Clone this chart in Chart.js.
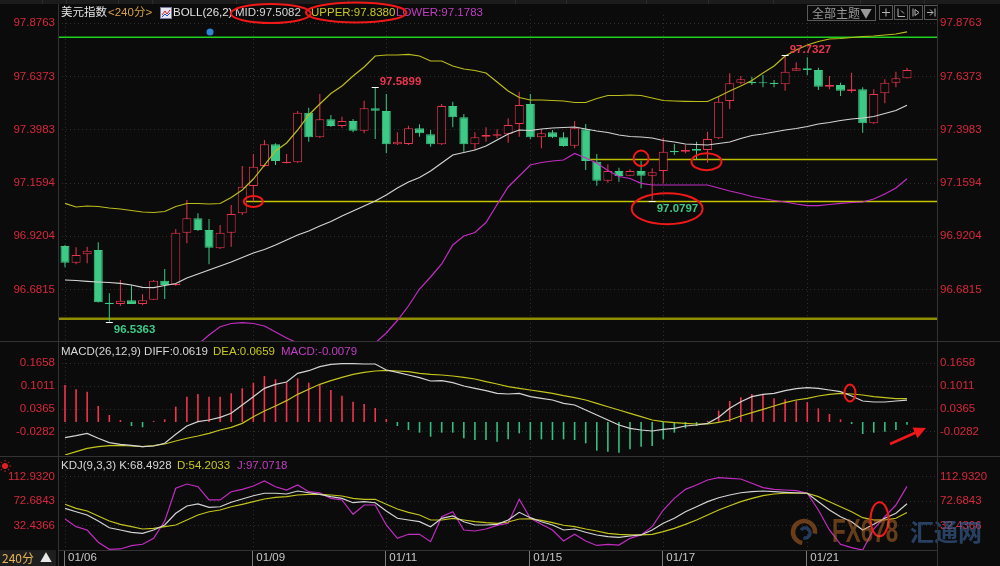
<!DOCTYPE html>
<html>
<head>
<meta charset="utf-8">
<title>美元指数 240分</title>
<script src="https://cdn.jsdelivr.net/npm/chart.js@4.4.1/dist/chart.umd.min.js"></script>
<style>
  html, body { margin: 0; padding: 0; background: #0b0b0b; }
  #wrap { position: relative; width: 1000px; height: 566px; overflow: hidden; background: #0b0b0b; }
  #wrap canvas { position: absolute; left: 0; top: 0; }
</style>
</head>
<body>
<div id="wrap">
  <canvas id="cMain" width="1000" height="566"></canvas>
  <canvas id="cMacd" width="1000" height="566"></canvas>
  <canvas id="cKdj" width="1000" height="566"></canvas>
</div>
<script>
// ---------- data ----------
const dateLabels = ['01/06', '01/09', '01/11', '01/15', '01/17', '01/21'];
const dateBars   = [0, 17, 29, 42, 54, 67];

const priceTicks = [96.6815, 96.9204, 97.1594, 97.3983, 97.6373, 97.8763];
const macdTicks  = [-0.0282, 0.0365, 0.1011, 0.1658];
const kdjTicks   = [32.4366, 72.6843, 112.9320];

const open = [
  96.8767, 96.8017, 96.8394, 96.8587, 96.6222, 96.6164, 96.6330, 96.6164, 96.6357, 96.7209,
  96.7016, 96.9364, 97.0010, 96.9485, 96.8664, 96.9364, 97.0235, 97.1460, 97.2357, 97.3331,
  97.2492, 97.2523, 97.4750, 97.3646, 97.4453, 97.4153, 97.4377, 97.3942, 97.4947, 97.4826,
  97.3331, 97.3345, 97.4050, 97.3780, 97.3331, 97.5050, 97.4543, 97.3331, 97.3673, 97.3717,
  97.3780, 97.4243, 97.5140, 97.3646, 97.3870, 97.3646, 97.3269, 97.4005, 97.2550, 97.1698,
  97.2133, 97.1922, 97.2133, 97.1922, 97.2133, 97.3031, 97.2999, 97.3120, 97.3076, 97.3601,
  97.5275, 97.6096, 97.6141, 97.6114, 97.6096, 97.6024, 97.6635, 97.6743, 97.6666, 97.5917,
  97.5993, 97.5724, 97.5800, 97.4274, 97.5620, 97.6096, 97.6294
];
const high = [
  96.8812, 96.8708, 96.8735, 96.8933, 96.6644, 96.7241, 96.7016, 96.6599, 96.7241, 96.7735,
  96.9530, 97.0831, 97.0235, 96.9979, 96.9709, 97.0607, 97.2357, 97.2896, 97.3524, 97.3376,
  97.2896, 97.4826, 97.4974, 97.5589, 97.4646, 97.4570, 97.4467, 97.5288, 97.5899, 97.5589,
  97.3870, 97.4166, 97.4229, 97.3973, 97.5140, 97.5243, 97.4691, 97.3870, 97.4094, 97.4005,
  97.4498, 97.5692, 97.5589, 97.4005, 97.3973, 97.3870, 97.4377, 97.4243, 97.2896, 97.2434,
  97.2281, 97.2209, 97.2595, 97.2254, 97.3628, 97.3345, 97.3300, 97.3448, 97.3897, 97.5468,
  97.6518, 97.6397, 97.6365, 97.6442, 97.6217, 97.7327, 97.7012, 97.7236, 97.6769, 97.6397,
  97.6096, 97.6545, 97.5890, 97.5800, 97.6249, 97.6590, 97.6769
];
const low = [
  96.7811, 96.7945, 96.7990, 96.6230, 96.5363, 96.6074, 96.6160, 96.6105, 96.6350, 96.6388,
  96.6972, 96.8888, 96.9440, 96.7945, 96.8632, 96.8735, 97.0158, 97.0760, 97.2312, 97.2402,
  97.2470, 97.2492, 97.3448, 97.3614, 97.4108, 97.4076, 97.3870, 97.3825, 97.3569, 97.2927,
  97.3300, 97.3300, 97.3673, 97.3224, 97.3300, 97.4094, 97.2999, 97.3075, 97.3448, 97.3601,
  97.3403, 97.3673, 97.3569, 97.3152, 97.3614, 97.3224, 97.3152, 97.2178, 97.1473, 97.1608,
  97.1653, 97.1909, 97.1357, 97.0797, 97.1581, 97.2851, 97.2927, 97.2658, 97.2506, 97.3569,
  97.4916, 97.6024, 97.5993, 97.5890, 97.5890, 97.5737, 97.6635, 97.6442, 97.5769, 97.5800,
  97.5499, 97.5647, 97.3852, 97.4243, 97.5172, 97.5890, 97.6290
];
const close = [
  96.8017, 96.8363, 96.8556, 96.6240, 96.6164, 96.6312, 96.6164, 96.6330, 96.7209, 96.7016,
  96.9364, 97.0010, 96.9485, 96.8691, 96.9364, 97.0203, 97.1428, 97.2326, 97.3331, 97.2582,
  97.2550, 97.4750, 97.3646, 97.4453, 97.4153, 97.4377, 97.3942, 97.4947, 97.4840, 97.3331,
  97.3448, 97.4050, 97.3825, 97.3331, 97.5050, 97.4543, 97.3331, 97.3646, 97.3749, 97.3780,
  97.4198, 97.5095, 97.3646, 97.3825, 97.3646, 97.3255, 97.4050, 97.2582, 97.1698, 97.2133,
  97.1909, 97.2133, 97.1922, 97.2075, 97.2999, 97.2972, 97.3076, 97.3044, 97.3569, 97.5243,
  97.6069, 97.6249, 97.6069, 97.6069, 97.6038, 97.6590, 97.6743, 97.6666, 97.5917, 97.5993,
  97.5737, 97.5800, 97.4274, 97.5589, 97.6096, 97.6294, 97.6666
];

const bollUpper = [
  97.0683, 97.0517, 97.0562, 97.0540, 97.0472, 97.0428, 97.0360, 97.0293, 97.0270, 97.0315,
  97.0540, 97.0674, 97.0674, 97.0652, 97.0674, 97.0944, 97.1280, 97.1774, 97.2402, 97.3031,
  97.3390, 97.3973, 97.4646, 97.5140, 97.5611, 97.5948, 97.6397, 97.6801, 97.7295, 97.7339,
  97.7339, 97.7371, 97.7295, 97.7070, 97.7070, 97.6846, 97.6711, 97.6644, 97.6532, 97.6128,
  97.5724, 97.5432, 97.5320, 97.5320, 97.5297, 97.5275, 97.5208, 97.5208, 97.5387, 97.5522,
  97.5522, 97.5544, 97.5522, 97.5410, 97.5297, 97.5275, 97.5261, 97.5252, 97.5252, 97.5477,
  97.5724, 97.5948, 97.6195, 97.6532, 97.6846, 97.7295, 97.7564, 97.7788, 97.7945, 97.8058,
  97.8080, 97.8125, 97.8170, 97.8192, 97.8237, 97.8282, 97.8380
];
const bollMid = [
  96.7241, 96.7218, 96.7182, 96.7151, 96.7129, 96.7093, 96.7016, 96.6913, 96.6895, 96.6994,
  96.7084, 96.7331, 96.7510, 96.7690, 96.7869, 96.8049, 96.8251, 96.8453, 96.8610, 96.8812,
  96.9036, 96.9261, 96.9440, 96.9664, 96.9866, 97.0113, 97.0338, 97.0562, 97.0787, 97.1056,
  97.1370, 97.1639, 97.1841, 97.2133, 97.2492, 97.2851, 97.2963, 97.3076, 97.3255, 97.3524,
  97.3794, 97.3973, 97.3951, 97.4018, 97.4063, 97.4085, 97.4108, 97.4018, 97.3928, 97.3861,
  97.3749, 97.3681, 97.3659, 97.3614, 97.3502, 97.3435, 97.3345, 97.3322, 97.3300, 97.3367,
  97.3435, 97.3592, 97.3726, 97.3794, 97.3883, 97.3973, 97.4041, 97.4130, 97.4243, 97.4310,
  97.4400, 97.4467, 97.4512, 97.4579, 97.4714, 97.4848, 97.5082
];
const bollLower = [
  96.3798, 96.3919, 96.3803, 96.3762, 96.3785, 96.3758, 96.3673, 96.3533, 96.3520, 96.3673,
  96.3628, 96.3987, 96.4346, 96.4772, 96.5145, 96.5288, 96.5324, 96.5288, 96.5176, 96.4907,
  96.4638, 96.4413, 96.4234, 96.4189, 96.4121, 96.4279, 96.4279, 96.4323, 96.4413, 96.4862,
  96.5423, 96.6074, 96.6837, 96.7375, 96.7959, 96.8812, 96.9216, 96.9373, 96.9822, 97.0629,
  97.1415, 97.1909, 97.2402, 97.2515, 97.2582, 97.2627, 97.2919, 97.2717, 97.2492, 97.2155,
  97.1886, 97.1796, 97.1581, 97.1505, 97.1505, 97.1505, 97.1505, 97.1505, 97.1505, 97.1370,
  97.1235, 97.1123, 97.0989, 97.0899, 97.0809, 97.0742, 97.0652, 97.0576, 97.0576, 97.0629,
  97.0683, 97.0719, 97.0742, 97.0876, 97.1101, 97.1370, 97.1783
];

// horizontal price levels and the bar each one is drawn from (null = left edge)
const levelValues  = [97.8134, 97.2649, 97.0760, 96.5504];
const levelFromBar = [null, 46.7, 16.1, null];

const macdDiff = [
  -0.0443, -0.0387, -0.0320, -0.0460, -0.0584, -0.0630, -0.0659, -0.0697, -0.0678, -0.0602,
  -0.0348, -0.0113, 0.0009, 0.0056, 0.0132, 0.0245, 0.0480, 0.0715, 0.0951, 0.1064,
  0.1130, 0.1375, 0.1449, 0.1562, 0.1629, 0.1646, 0.1646, 0.1638, 0.1638, 0.1469,
  0.1403, 0.1327, 0.1252, 0.1158, 0.1167, 0.1110, 0.1017, 0.0951, 0.0885, 0.0810,
  0.0791, 0.0810, 0.0715, 0.0668, 0.0621, 0.0527, 0.0480, 0.0339, 0.0198, 0.0056,
  -0.0085, -0.0179, -0.0226, -0.0254, -0.0207, -0.0179, -0.0113, -0.0085, -0.0038, 0.0132,
  0.0386, 0.0574, 0.0715, 0.0781, 0.0810, 0.0885, 0.0942, 0.0970, 0.0951, 0.0904,
  0.0857, 0.0734, 0.0593, 0.0565, 0.0565, 0.0593, 0.0619
];
const macdDea = [
  -0.0932, -0.0838, -0.0744, -0.0697, -0.0668, -0.0659, -0.0678, -0.0697, -0.0668, -0.0621,
  -0.0537, -0.0460, -0.0395, -0.0320, -0.0226, -0.0150, -0.0038, 0.0150, 0.0310, 0.0452,
  0.0603, 0.0781, 0.0923, 0.1064, 0.1167, 0.1262, 0.1347, 0.1403, 0.1440, 0.1460,
  0.1440, 0.1420, 0.1375, 0.1347, 0.1327, 0.1299, 0.1262, 0.1214, 0.1138, 0.1073,
  0.0997, 0.0951, 0.0904, 0.0857, 0.0810, 0.0743, 0.0686, 0.0621, 0.0527, 0.0432,
  0.0339, 0.0245, 0.0150, 0.0056, 0.0009, -0.0020, -0.0038, -0.0056, -0.0056, -0.0009,
  0.0056, 0.0169, 0.0263, 0.0358, 0.0452, 0.0545, 0.0621, 0.0668, 0.0734, 0.0781,
  0.0810, 0.0791, 0.0762, 0.0715, 0.0686, 0.0658, 0.0659
];
const macdHist = [
  0.1045, 0.0923, 0.0856, 0.0452, 0.0198, 0.0056, -0.0113, -0.0150, 0.0030, 0.0076,
  0.0432, 0.0715, 0.0791, 0.0715, 0.0715, 0.0810, 0.0952, 0.1110, 0.1300, 0.1206,
  0.1120, 0.1234, 0.1110, 0.1045, 0.0904, 0.0740, 0.0574, 0.0508, 0.0395, 0.0085,
  -0.0113, -0.0226, -0.0301, -0.0414, -0.0301, -0.0301, -0.0460, -0.0508, -0.0508, -0.0555,
  -0.0490, -0.0320, -0.0508, -0.0490, -0.0508, -0.0490, -0.0508, -0.0602, -0.0810, -0.0838,
  -0.0866, -0.0772, -0.0697, -0.0678, -0.0490, -0.0301, -0.0180, -0.0113, 0.0030, 0.0320,
  0.0593, 0.0697, 0.0790, 0.0762, 0.0668, 0.0640, 0.0603, 0.0565, 0.0386, 0.0226,
  0.0075, -0.0056, -0.0339, -0.0301, -0.0273, -0.0226, -0.0079
];

const kdjK = [
  61.0, 55.4, 50.0, 40.1, 29.1, 25.4, 21.6, 19.9, 25.4, 33.6,
  52.8, 64.8, 68.1, 62.6, 63.6, 70.9, 76.3, 81.7, 85.7, 85.7,
  84.5, 89.4, 86.6, 84.0, 80.1, 77.4, 70.2, 71.9, 70.2, 56.6,
  44.6, 41.8, 39.0, 30.8, 44.6, 48.4, 39.0, 33.6, 33.6, 34.7,
  41.8, 54.4, 45.6, 39.0, 33.6, 25.4, 27.0, 21.6, 17.2, 14.4,
  13.4, 15.5, 17.2, 25.4, 36.4, 44.6, 55.4, 63.6, 71.9, 78.4,
  82.9, 86.6, 88.3, 89.4, 88.3, 87.3, 86.6, 85.7, 71.9, 58.2,
  47.2, 39.0, 25.4, 34.7, 44.6, 52.8, 68.4928
];
const kdjD = [
  67.6, 61.0, 56.6, 48.4, 40.1, 34.7, 30.8, 27.0, 28.1, 30.8,
  33.6, 41.8, 50.0, 55.4, 58.2, 63.6, 67.6, 71.9, 76.3, 79.1,
  80.1, 82.9, 84.0, 84.0, 82.9, 81.2, 77.4, 75.8, 75.8, 67.6,
  59.9, 54.4, 50.0, 41.8, 41.8, 44.6, 41.8, 39.0, 37.4, 36.4,
  38.5, 43.4, 43.6, 41.2, 37.5, 33.2, 30.8, 27.0, 23.7, 19.9,
  18.3, 17.2, 17.2, 18.3, 22.6, 28.1, 34.7, 41.8, 50.0, 58.2,
  65.3, 71.9, 77.4, 81.7, 84.5, 85.7, 85.7, 85.7, 80.1, 71.9,
  63.6, 55.4, 45.6, 41.8, 41.8, 44.6, 54.2033
];
const kdjJ = [
  43.4, 30.8, 25.4, 5.2, -6.3, -5.8, -0.4, 1.9, 11.7, 40.0,
  93.9, 100.9, 96.5, 74.7, 74.7, 88.3, 92.2, 97.6, 105.9, 96.5,
  91.1, 99.3, 88.3, 86.6, 77.4, 74.7, 51.2, 66.4, 66.4, 33.6,
  11.7, 18.3, 18.3, 6.2, 47.2, 55.4, 25.4, 23.7, 27.0, 33.0,
  36.4, 75.8, 44.6, 34.7, 25.4, 7.3, 18.3, 7.3, 0.0, 1.9,
  0.7, 11.7, 17.2, 30.8, 58.2, 77.4, 92.2, 99.3, 107.5, 111.3,
  110.3, 109.2, 102.1, 94.9, 92.2, 91.1, 89.9, 85.7, 58.2, 25.4,
  1.9, -3.7, -7.5, 27.0, 47.2, 66.4, 97.0718
];

// ---------- look ----------
const FONT = "'Liberation Sans', 'Noto Sans CJK SC', Arial, sans-serif";
const CJK = "'Noto Sans CJK SC', 'Liberation Sans', sans-serif";
const FS = 11.5;
const RED = '#e8364e', GREEN = '#3dc986', BG = '#0b0b0b';
const AXIS_RED = '#d8283c';
const GRID = '#2e2e2e';
const MARK_RED = '#f01818';
const X_MIN = -0.632, X_MAX = 78.708;

Chart.defaults.font.family = FONT;
Chart.defaults.font.size = FS;
Chart.defaults.color = '#c8c8c8';
Chart.defaults.animation = false;

const last = a => a[a.length - 1];
const pts = arr => arr.map((v, i) => ({ x: i, y: v }));

function xAxis(withLabels) {
  return {
    type: 'linear', min: X_MIN, max: X_MAX, offset: false,
    afterBuildTicks: s => { s.ticks = dateBars.map(v => ({ value: v })); },
    grid: { color: GRID, drawTicks: false, offset: false },
    border: { display: false, dash: [1, 3] },
    ticks: withLabels
      ? { display: true, autoSkip: false, maxRotation: 0, minRotation: 0, align: 'start',
          labelOffset: 3, padding: 1, color: '#c8c8c8', callback: (v, i) => dateLabels[i] }
      : { display: false },
    afterFit: s => { s.height = withLabels ? 16 : 0; }
  };
}
function yAxes(min, max, tickValues) {
  const common = {
    type: 'linear', min, max,
    afterBuildTicks: s => { s.ticks = tickValues.map(v => ({ value: v })); },
    ticks: { color: AXIS_RED, padding: 3, autoSkip: false, callback: v => Number(v).toFixed(4) },
    border: { display: false, dash: [1, 3] }
  };
  return {
    y:  Object.assign({}, common, { position: 'left',  grid: { color: GRID, drawTicks: false }, afterFit: s => { s.width = 58; } }),
    y2: Object.assign({}, common, { position: 'right', grid: { display: false, drawTicks: false }, afterFit: s => { s.width = 63; } })
  };
}
function baseOptions(padTop, padBottom, scales) {
  return {
    responsive: false, animation: false, events: [],
    layout: { padding: { top: padTop, bottom: padBottom, left: 0, right: 0 } },
    plugins: { legend: { display: false }, tooltip: { enabled: false } },
    scales
  };
}
function ring(ctx, cx, cy, rx, ry) {
  ctx.save();
  ctx.strokeStyle = MARK_RED; ctx.lineWidth = 2;
  ctx.beginPath(); ctx.ellipse(cx, cy, rx, ry, 0, 0, Math.PI * 2); ctx.stroke();
  ctx.restore();
}
function textRun(ctx, y, parts, font) {
  ctx.font = font || (FS + 'px ' + FONT);
  ctx.textBaseline = 'middle'; ctx.textAlign = 'left';
  parts.forEach(p => { ctx.fillStyle = p[1]; ctx.fillText(p[0], p[2], y); });
}

// ---------- main price panel ----------
const upColor = close.map((c, i) => c >= open[i]);
const candleColor = upColor.map(u => u ? RED : GREEN);

const levelStyles = [
  { color: '#1fd21f', width: 1.5 },
  { color: '#bcbc00', width: 1.5 },
  { color: '#c4c400', width: 1.5 },
  { color: '#8e8e00', width: 2.5 }
];
const levelSets = levelValues.map((v, k) => ({
  type: 'line', order: 6,
  data: [{ x: levelFromBar[k] === null ? X_MIN : levelFromBar[k], y: v }, { x: X_MAX, y: v }],
  borderColor: levelStyles[k].color, borderWidth: levelStyles[k].width, pointRadius: 0
}));

// hand-drawn red rings on the price panel, anchored to bar / price
const priceRings = [
  { bar: 17, value: 97.0760, rx: 9.5, ry: 5.5 },
  { bar: 52, value: 97.2703, rx: 7.5, ry: 7.7 },
  { bar: 57.9, value: 97.2550, rx: 15, ry: 8.5 },
  { bar: 54.35, value: 97.0441, rx: 35.5, ry: 15.5 }
];
const extremes = [
  { bar: 4, kind: 'low' }, { bar: 28, kind: 'high' },
  { bar: 53, kind: 'low' }, { bar: 65, kind: 'high' }
];

const mainDecor = {
  id: 'mainDecor',
  afterDatasetsDraw(chart) {
    const ctx = chart.ctx, xs = chart.scales.x, ys = chart.scales.y;
    ctx.save();
    // marked highs / lows
    extremes.forEach(e => {
      const v = e.kind === 'high' ? high[e.bar] : low[e.bar];
      const x = xs.getPixelForValue(e.bar), y = ys.getPixelForValue(v);
      ctx.strokeStyle = '#ffffff'; ctx.lineWidth = 1;
      ctx.beginPath(); ctx.moveTo(x - 3.5, Math.round(y) + 0.5); ctx.lineTo(x + 3.5, Math.round(y) + 0.5); ctx.stroke();
      ctx.font = 'bold ' + FS + 'px ' + FONT; ctx.textBaseline = 'middle'; ctx.textAlign = 'left';
      ctx.fillStyle = e.kind === 'high' ? '#e8364e' : '#3dc986';
      ctx.fillText(v.toFixed(4), x + 4.5, e.kind === 'high' ? y - 5.5 : y + 8);
    });
    priceRings.forEach(r => ring(ctx, xs.getPixelForValue(r.bar), ys.getPixelForValue(r.value), r.rx, r.ry));
    ctx.restore();
  },
  afterDraw(chart) {
    const ctx = chart.ctx;
    ctx.save();
    // top strip
    ctx.fillStyle = '#1c1c1c'; ctx.fillRect(0, 0, 1000, 4);
    ctx.fillStyle = '#2c2c2c';
    [42, 66, 118, 152, 236, 348, 515, 566, 646, 708, 773, 860, 924].forEach(x => ctx.fillRect(x, 0, 1, 4));
    // heading
    const mid = 'MID:' + last(bollMid).toFixed(4);
    const up = 'UPPER:' + last(bollUpper).toFixed(4);
    const lo = 'LOWER:' + last(bollLower).toFixed(4);
    textRun(ctx, 13, [
      ['美元指数', '#e4e4e4', 61], ['<240分>', '#d9a24a', 108],
      ['BOLL(26,2)', '#e4e4e4', 173], [mid, '#d6d6d6', 235],
      [up, '#c8c81e', 311], [lo, '#c23ec2', 396]
    ]);
    // BOLL badge
    ctx.fillStyle = '#e6e6f2'; ctx.fillRect(160, 7, 12, 12);
    ctx.strokeStyle = '#7a7aa0'; ctx.lineWidth = 1; ctx.strokeRect(160.5, 7.5, 11, 11);
    ctx.strokeStyle = '#d02020'; ctx.beginPath(); ctx.moveTo(162, 15); ctx.lineTo(165, 11); ctx.lineTo(167, 14); ctx.lineTo(170, 10); ctx.stroke();
    ctx.strokeStyle = '#2050d0'; ctx.beginPath(); ctx.moveTo(162, 17); ctx.lineTo(165, 14); ctx.lineTo(167, 16); ctx.lineTo(170, 13); ctx.stroke();
    // rings round MID / UPPER
    ctx.font = FS + 'px ' + FONT;
    const wMid = ctx.measureText(mid).width, wUp = ctx.measureText(up).width;
    ring(ctx, 235 + wMid / 2 + 3, 13.5, wMid / 2 + 7, 9.5);
    ring(ctx, 311 + wUp / 2 + 3, 12.5, wUp / 2 + 8, 10);
    // event dot
    ctx.fillStyle = '#2b86d8'; ctx.beginPath(); ctx.arc(210, 32, 3.5, 0, Math.PI * 2); ctx.fill();
    // theme selector and tool buttons
    ctx.strokeStyle = '#5a5a5a'; ctx.lineWidth = 1;
    ctx.strokeRect(807.5, 5.5, 68, 15);
    ctx.font = '12px ' + CJK; ctx.fillStyle = '#9a9a9a'; ctx.textBaseline = 'middle';
    ctx.fillText('全部主题▼', 812, 13);
    [879, 894, 909, 924].forEach((bx, k) => {
      ctx.strokeStyle = '#5a5a5a'; ctx.strokeRect(bx + 0.5, 5.5, 13, 14);
      ctx.strokeStyle = '#b4b4b4'; ctx.beginPath();
      const cx = bx + 7, cy = 12.5;
      if (k === 0) { ctx.moveTo(cx - 4, cy); ctx.lineTo(cx + 4, cy); ctx.moveTo(cx, cy - 4); ctx.lineTo(cx, cy + 4); }
      if (k === 1) { ctx.moveTo(cx - 3, cy - 4); ctx.lineTo(cx - 3, cy + 4); ctx.lineTo(cx + 4, cy + 4); ctx.moveTo(cx, cy - 2); ctx.lineTo(cx + 3, cy + 1); }
      if (k === 2) { ctx.moveTo(cx - 3, cy - 4); ctx.lineTo(cx - 3, cy + 4); ctx.moveTo(cx - 1, cy - 3); ctx.lineTo(cx + 3, cy); ctx.lineTo(cx - 1, cy + 3); ctx.closePath(); }
      if (k === 3) { ctx.moveTo(cx + 4, cy - 4); ctx.lineTo(cx + 4, cy + 4); ctx.moveTo(cx - 4, cy); ctx.lineTo(cx + 2, cy); ctx.moveTo(cx - 1, cy - 3); ctx.lineTo(cx + 2, cy); ctx.lineTo(cx - 1, cy + 3); }
      ctx.stroke();
    });
    ctx.restore();
  }
};

new Chart(document.getElementById('cMain'), {
  type: 'line',
  data: {
    datasets: [
      ...levelSets,
      { type: 'bar', order: 5, grouped: false, barThickness: 1, inflateAmount: 0,
        data: low.map((l, i) => ({ x: i, y: [l, high[i]] })),
        backgroundColor: candleColor, borderWidth: 0 },
      { type: 'bar', order: 4, grouped: false, barThickness: 9, inflateAmount: 0, minBarLength: 1,
        data: close.map((c, i) => ({ x: i, y: [open[i], c] })),
        backgroundColor: upColor.map(u => u ? BG : GREEN), borderColor: candleColor,
        borderWidth: 1, borderSkipped: false },
      { type: 'line', order: 1, data: pts(bollUpper), borderColor: '#bcbc1c', borderWidth: 1.2, pointRadius: 0 },
      { type: 'line', order: 1, data: pts(bollMid), borderColor: '#d4d4d4', borderWidth: 1.2, pointRadius: 0 },
      { type: 'line', order: 1, data: pts(bollLower), borderColor: '#c22cc2', borderWidth: 1.2, pointRadius: 0 }
    ]
  },
  options: baseOptions(15, 225, Object.assign({ x: xAxis(false) }, yAxes(96.4503, 97.9135, priceTicks))),
  plugins: [mainDecor]
});

// ---------- MACD panel ----------
const macdRing = { bar: 70.85, value: 0.0819, rx: 5.5, ry: 8.5 };
const macdArrow = { fromBar: 74.47, fromValue: -0.0621, toBar: 77.71, toValue: -0.0169 };

const macdDecor = {
  id: 'macdDecor',
  afterDraw(chart) {
    const ctx = chart.ctx, xs = chart.scales.x, ys = chart.scales.y;
    ctx.save();
    textRun(ctx, 352, [
      ['MACD(26,12,9) DIFF:' + last(macdDiff).toFixed(4), '#d8d8d8', 61],
      ['DEA:' + last(macdDea).toFixed(4), '#c8c81e', 213],
      ['MACD:' + last(macdHist).toFixed(4), '#c23ec2', 281]
    ]);
    ring(ctx, xs.getPixelForValue(macdRing.bar), ys.getPixelForValue(macdRing.value), macdRing.rx, macdRing.ry);
    // arrow
    const x0 = xs.getPixelForValue(macdArrow.fromBar), y0 = ys.getPixelForValue(macdArrow.fromValue);
    const x1 = xs.getPixelForValue(macdArrow.toBar), y1 = ys.getPixelForValue(macdArrow.toValue);
    const ang = Math.atan2(y1 - y0, x1 - x0);
    ctx.strokeStyle = MARK_RED; ctx.fillStyle = MARK_RED; ctx.lineWidth = 2.5;
    ctx.beginPath(); ctx.moveTo(x0, y0); ctx.lineTo(x1 - 8 * Math.cos(ang), y1 - 8 * Math.sin(ang)); ctx.stroke();
    ctx.beginPath();
    ctx.moveTo(x1, y1);
    ctx.lineTo(x1 - 12 * Math.cos(ang) + 6 * Math.sin(ang), y1 - 12 * Math.sin(ang) - 6 * Math.cos(ang));
    ctx.lineTo(x1 - 12 * Math.cos(ang) - 6 * Math.sin(ang), y1 - 12 * Math.sin(ang) + 6 * Math.cos(ang));
    ctx.closePath(); ctx.fill();
    ctx.restore();
  }
};

new Chart(document.getElementById('cMacd'), {
  type: 'line',
  data: {
    datasets: [
      { type: 'bar', order: 5, grouped: false, barThickness: 1.6, inflateAmount: 0,
        data: pts(macdHist), backgroundColor: macdHist.map(v => v >= 0 ? '#f0344c' : '#33c07f'), borderWidth: 0 },
      { type: 'line', order: 1, data: pts(macdDiff), borderColor: '#d4d4d4', borderWidth: 1.2, pointRadius: 0 },
      { type: 'line', order: 1, data: pts(macdDea), borderColor: '#c4c41c', borderWidth: 1.2, pointRadius: 0 }
    ]
  },
  options: baseOptions(343, 111, Object.assign({ x: xAxis(false) }, yAxes(-0.0932, 0.2231, macdTicks))),
  plugins: [macdDecor]
});

// ---------- KDJ panel ----------
const kdjRing = { bar: 73.52, value: 42.95, rx: 9, ry: 17 };

const kdjDecor = {
  id: 'kdjDecor',
  afterDraw(chart) {
    const ctx = chart.ctx, xs = chart.scales.x, ys = chart.scales.y;
    ctx.save();
    textRun(ctx, 466, [
      ['KDJ(9,3,3) K:' + last(kdjK).toFixed(4), '#d8d8d8', 61],
      ['D:' + last(kdjD).toFixed(4), '#c8c81e', 177],
      ['J:' + last(kdjJ).toFixed(4), '#c23ec2', 237]
    ]);
    // small settings glyph at the left
    ctx.fillStyle = '#e02020';
    ctx.beginPath(); ctx.arc(5, 466, 3, 0, Math.PI * 2); ctx.fill();
    ctx.strokeStyle = '#e02020'; ctx.lineWidth = 1;
    for (let k = 0; k < 8; k++) {
      const a = k * Math.PI / 4;
      ctx.beginPath(); ctx.moveTo(5 + 4.5 * Math.cos(a), 466 + 4.5 * Math.sin(a)); ctx.lineTo(5 + 6 * Math.cos(a), 466 + 6 * Math.sin(a)); ctx.stroke();
    }
    // date tick marks under the axis
    ctx.strokeStyle = '#7a7a7a'; ctx.lineWidth = 1;
    dateBars.forEach(b => {
      const x = Math.round(xs.getPixelForValue(b)) - 0.5;
      ctx.beginPath(); ctx.moveTo(x, chart.chartArea.bottom + 1); ctx.lineTo(x, 566); ctx.stroke();
    });
    // interval badge
    ctx.fillStyle = '#1e1e1e'; ctx.fillRect(0, 550, 56, 16);
    ctx.font = '12px ' + CJK; ctx.textBaseline = 'middle'; ctx.textAlign = 'left';
    ctx.fillStyle = '#e6b455'; ctx.fillText('240分', 2, 558);
    ctx.fillStyle = '#e8e8e8'; ctx.fillText('▲', 40, 558);
    ring(ctx, xs.getPixelForValue(kdjRing.bar), ys.getPixelForValue(kdjRing.value), kdjRing.rx, kdjRing.ry);
    // site watermark
    ctx.save();
    ctx.globalAlpha = 0.5;
    const gx = 804, gy = 532;
    ctx.lineWidth = 4.5; ctx.strokeStyle = '#c8702a';
    ctx.beginPath(); ctx.arc(gx, gy, 11, Math.PI * 0.55, Math.PI * 2.05); ctx.stroke();
    ctx.strokeStyle = '#3c6aa8'; ctx.lineWidth = 3.5;
    ctx.beginPath(); ctx.arc(gx + 1, gy + 1, 5, Math.PI * 1.2, Math.PI * 2.6); ctx.stroke();
    ctx.translate(832, 532); ctx.scale(0.68, 1);
    ctx.font = 'bold 33px ' + FONT; ctx.fillStyle = '#c46e28'; ctx.textBaseline = 'middle';
    ctx.fillText('FX678', 0, 1);
    ctx.restore();
    ctx.save();
    ctx.globalAlpha = 0.6;
    ctx.font = 'bold 24px ' + CJK; ctx.fillStyle = '#3c669e'; ctx.textBaseline = 'middle';
    ctx.fillText('汇通网', 910, 532);
    ctx.restore();
    ctx.restore();
  }
};

new Chart(document.getElementById('cKdj'), {
  type: 'line',
  data: {
    datasets: [
      { type: 'line', order: 3, data: pts(kdjJ), borderColor: '#c22cc2', borderWidth: 1.2, pointRadius: 0 },
      { type: 'line', order: 2, data: pts(kdjD), borderColor: '#c4c41c', borderWidth: 1.2, pointRadius: 0 },
      { type: 'line', order: 1, data: pts(kdjK), borderColor: '#d4d4d4', borderWidth: 1.2, pointRadius: 0 }
    ]
  },
  options: baseOptions(458, 0, Object.assign({ x: xAxis(true) }, yAxes(-7.49, 143.65, kdjTicks))),
  plugins: [kdjDecor]
});

// ---------- panel frame ----------
const frame = document.createElement('canvas');
frame.width = 1000; frame.height = 566;
document.getElementById('wrap').appendChild(frame);
(function drawFrame() {
  const c = frame.getContext('2d');
  c.strokeStyle = '#333333'; c.lineWidth = 1;
  c.beginPath();
  c.moveTo(58.5, 4); c.lineTo(58.5, 566);
  c.moveTo(937.5, 4); c.lineTo(937.5, 566);
  c.moveTo(0, 341.5); c.lineTo(1000, 341.5);
  c.moveTo(0, 456.5); c.lineTo(1000, 456.5);
  c.moveTo(58, 550.5); c.lineTo(938, 550.5);
  c.stroke();
})();
</script>
</body>
</html>
